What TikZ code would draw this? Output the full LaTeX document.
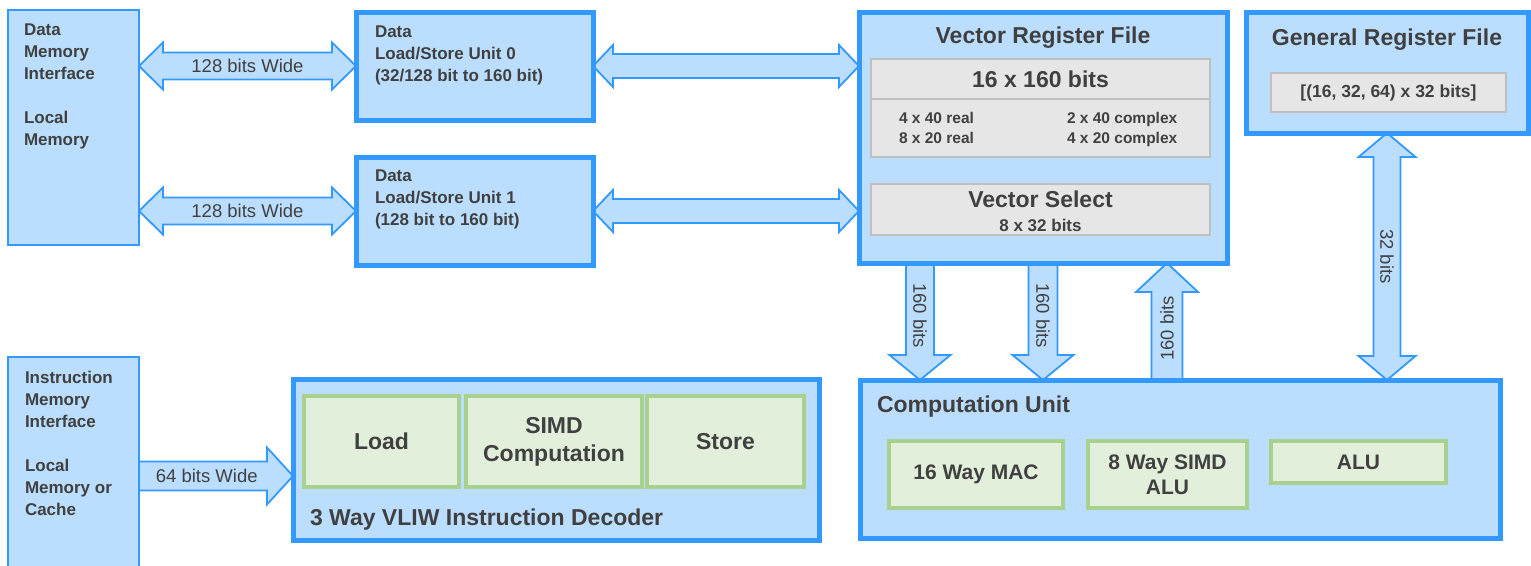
\documentclass[tikz,border=0pt]{standalone}
\usepackage{fontspec}
\setmainfont{Liberation Sans}
\usetikzlibrary{calc,positioning}
\pgfdeclarelayer{background}
\pgfsetlayers{background,main}
\definecolor{boxfill}{RGB}{187,222,255}
\definecolor{blueline}{RGB}{51,153,255}
\definecolor{regfill}{RGB}{230,230,230}
\definecolor{regline}{RGB}{191,191,191}
\definecolor{slotfill}{RGB}{226,239,218}
\definecolor{slotline}{RGB}{169,209,142}
\definecolor{txt}{RGB}{64,64,64}
\tikzset{
    every node/.style={text=txt,inner sep=0pt,outer sep=0pt},
    dims/.style 2 args={minimum width=#1pt,minimum height=#2pt},
    memblock/.style={draw=blueline,line width=2.5pt,fill=boxfill,anchor=north west},
    unit/.style={draw=blueline,line width=5pt,fill=boxfill,anchor=north west},
    regbox/.style={draw=regline,line width=2pt,fill=regfill,anchor=north west},
    slot/.style={draw=slotline,line width=4pt,fill=slotfill,anchor=north west,align=center},
    bus/.style={fill=boxfill,draw=blueline,line width=1.8pt,line join=miter},
    buslabel/.style={font=\fontsize{18.5}{20}\selectfont},
    boxtext/.style={font=\fontsize{17}{22}\selectfont\bfseries,align=left,anchor=north west},
    title/.style={font=\fontsize{23}{28}\selectfont\bfseries}
}
% fat buses: from, to, head length, head half width, shaft half width
\newcommand{\hbus}[5]{\path[bus] (#1) -- ++(#3,#4) -- ++(0,#5-#4) -- ($(#2)+(-#3,#5)$) -- ++(0,#4-#5) -- (#2) -- ++(-#3,-#4) -- ++(0,#4-#5) -- ($(#1)+(#3,-#5)$) -- ++(0,#5-#4) -- cycle;}
\newcommand{\vbus}[5]{\path[bus] (#1) -- ++(#4,#3) -- ++(#5-#4,0) -- ($(#2)+(#5,-#3)$) -- ++(#4-#5,0) -- (#2) -- ++(-#4,-#3) -- ++(#4-#5,0) -- ($(#1)+(-#5,#3)$) -- ++(#5-#4,0) -- cycle;}
\newcommand{\hone}[5]{\path[bus] ($(#1)+(0,-#5)$) -- ($(#2)+(-#3,-#5)$) -- ++(0,#5-#4) -- (#2) -- ++(-#3,#4) -- ++(0,#5-#4) -- ($(#1)+(0,#5)$);}
\newcommand{\vdown}[5]{\path[bus] ($(#1)+(-#5,0)$) -- ($(#2)+(-#5,-#3)$) -- ++(#5-#4,0) -- (#2) -- ++(#4,-#3) -- ++(#5-#4,0) -- ($(#1)+(#5,0)$);}
\newcommand{\vup}[5]{\path[bus] ($(#1)+(-#5,0)$) -- ($(#2)+(-#5,#3)$) -- ++(#5-#4,0) -- (#2) -- ++(#4,#3) -- ++(#5-#4,0) -- ($(#1)+(#5,0)$);}

\begin{document}
\begin{tikzpicture}[x={(1pt,0)},y={(0,-1pt)}]
    \useasboundingbox (0,0) rectangle (1531,565);

    % memories
    \node[memblock,dims={131}{235}] (dmem) at (8,10) {};
    \node[boxtext] (dmemtxt) at ([shift={(16,14)}]dmem.north west) {Data\\Memory\\Interface\\[22pt]Local\\Memory};
    \node[memblock,dims={131}{240}] (imem) at (8,357) {};
    \node[boxtext] (imemtxt) at ([shift={(17,14)}]imem.north west) {Instruction\\Memory\\Interface\\[22pt]Local\\Memory or\\Cache};

    % load/store units
    \node[unit,dims={237}{108}] (lsu0) at (356,12) {};
    \node[boxtext] (lsu0txt) at ([shift={(19,14)}]lsu0.north west) {Data\\Load/Store Unit 0\\(32/128 bit to 160 bit)};
    \node[unit,dims={237}{108}] (lsu1) at (356,157) {};
    \node[boxtext] (lsu1txt) at ([shift={(19,13)}]lsu1.north west) {Data\\Load/Store Unit 1\\(128 bit to 160 bit)};

    % vector register file
    \node[unit,dims={368}{251}] (vrf) at (859,12) {};
    \node[title,anchor=base] (vrftitle) at ([shift={(0,31)}]vrf.north) {Vector Register File};
    \node[regbox,dims={339}{40},title] (reg16) at (871,59) {16 x 160 bits};
    \node[regbox,dims={339}{58}] (regsplit) at (871,99) {};
    \node[boxtext,font=\fontsize{15.5}{20}\selectfont\bfseries] (realtxt) at ([shift={(28,13)}]regsplit.north west) {4 x 40 real\\8 x 20 real};
    \node[boxtext,font=\fontsize{15.5}{20}\selectfont\bfseries] (cplxtxt) at ([shift={(196,13)}]regsplit.north west) {2 x 40 complex\\4 x 20 complex};
    \node[regbox,dims={339}{51}] (vsel) at (871,184) {};
    \node[title,anchor=base] (vseltitle) at ([shift={(0,23)}]vsel.north) {Vector Select};
    \node[anchor=base,font=\fontsize{17}{20}\selectfont\bfseries] (vseltxt) at ([shift={(0,47)}]vsel.north) {8 x 32 bits};

    % general register file
    \node[unit,dims={282}{121}] (grf) at (1246,12) {};
    \node[title,anchor=base] (grftitle) at ([shift={(0,33)}]grf.north) {General Register File};
    \node[regbox,dims={235}{39},font=\fontsize{17.5}{20}\selectfont\bfseries] (grfregs) at (1271,73) {[(16, 32, 64) x 32 bits]};

    % computation unit
    \node[unit,dims={640}{158}] (cu) at (860,380) {};
    \node[title,anchor=base west] (cutitle) at ([shift={(17,32)}]cu.north west) {Computation Unit};
    \node[slot,dims={174}{67},font=\fontsize{21}{25}\selectfont\bfseries] (mac) at (889,441) {16 Way MAC};
    \node[slot,dims={159}{67},font=\fontsize{21}{25}\selectfont\bfseries,right=25pt of mac] (simd) {8 Way SIMD\\ALU};
    \node[slot,dims={175}{42},font=\fontsize{21}{25}\selectfont\bfseries,right=24pt of simd.north east,anchor=north west] (alu) {ALU};

    % instruction decoder
    \node[unit,dims={526}{161}] (dec) at (293,379) {};
    \node[title,anchor=base west] (dectitle) at ([shift={(17,146)}]dec.north west) {3 Way VLIW Instruction Decoder};
    \node[slot,dims={155}{91},title] (load) at (304,396) {Load};
    \node[slot,dims={176}{91},title,right=7pt of load] (simdc) {SIMD\\Computation};
    \node[slot,dims={157}{91},title,right=5pt of simdc] (store) {Store};

    \coordinate (busa) at ([xshift=61]vrf.south west);
    \coordinate (busc) at ([xshift=-60]vrf.south east);
    \coordinate (decin) at ([shift={(0,16.5)}]dec.west);

    \begin{pgfonlayer}{background}
        \hbus{dmem.east |- lsu0.west}{lsu0.west}{24}{23.5}{13.5}
        \hbus{dmem.east |- lsu1.west}{lsu1.west}{24}{23.5}{13.5}
        \hbus{lsu0.east}{vrf.west |- lsu0.east}{20}{21}{12}
        \hbus{lsu1.east}{vrf.west |- lsu1.east}{20}{21}{12}
        \hone{imem.east |- decin}{decin}{26}{28.5}{14.5}
        \vdown{busa}{busa |- cu.north}{25}{30.5}{14}
        \vdown{vrf.south}{vrf.south |- cu.north}{25}{30.5}{14.5}
        \vup{busc |- cu.north}{busc}{29}{31}{15.5}
        \vbus{grf.south}{grf.south |- cu.north}{24}{28.5}{13.5}
    \end{pgfonlayer}

    \path (dmem.east |- lsu0.west) -- (lsu0.west) node[midway,buslabel] {128 bits Wide};
    \path (dmem.east |- lsu1.west) -- (lsu1.west) node[midway,buslabel] {128 bits Wide};
    \path (imem.east |- decin) -- (decin) node[pos=.44,buslabel] {64 bits Wide};
    \path (busa) -- (busa |- cu.north) node[pos=.45,buslabel,rotate=-90] {160 bits};
    \path (vrf.south) -- (vrf.south |- cu.north) node[pos=.45,buslabel,rotate=-90] {160 bits};
    \path (busc |- cu.north) -- (busc) node[pos=.44,buslabel,rotate=90] {160 bits};
    \path (grf.south) -- (grf.south |- cu.north) node[midway,buslabel,rotate=-90] {32 bits};
\end{tikzpicture}
\end{document}
